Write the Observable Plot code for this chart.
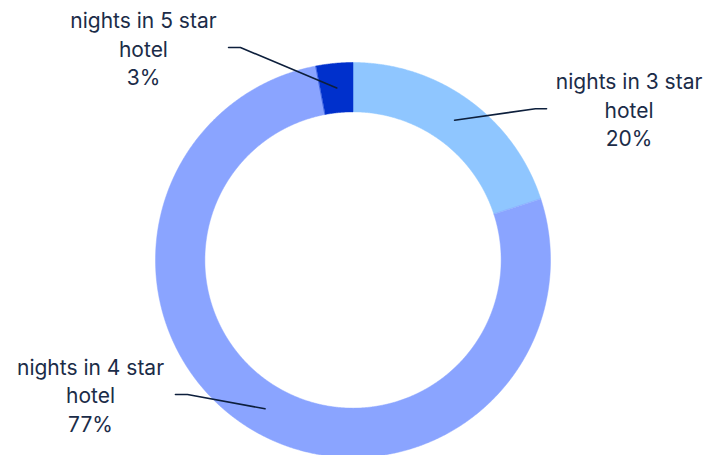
<!DOCTYPE html>
<html>
<head>
<meta charset="utf-8">
<script src="https://cdn.jsdelivr.net/npm/d3@7"></script>
<script src="https://cdn.jsdelivr.net/npm/@observablehq/plot@0.6"></script>
<style>
  html, body { margin: 0; padding: 0; background: #fff; }
  #chart { width: 709px; height: 455px; }
</style>
</head>
<body>
<div id="chart"></div>
<script>
// ---- data ----
const categories = ["nights in 3 star hotel", "nights in 4 star hotel", "nights in 5 star hotel"];
const labelLines = ["nights in 3 star\nhotel", "nights in 4 star\nhotel", "nights in 5 star\nhotel"];
const shares = [20, 77, 3];
const colors = ["#8fc6ff", "#8aa4ff", "#0030cc"];

// ---- layout (unit-circle coordinates, radius 1 = outer edge) ----
const innerRatio = 0.75;
const tipRadius = 0.875;
const labelPos = [
  {tx: 1.398, ty: 0.767, ex: 0.924, ey: 0.766, sx: 0.980},
  {tx: -1.329, ty: -0.679, ex: -0.838, ey: -0.681, sx: -0.899},
  {tx: -1.061, ty: 1.076, ex: -0.570, ey: 1.076, sx: -0.630}
];

const pie = d3.pie().sort(null).value(d => d)(shares);

const ringPts = [];
pie.forEach((p, i) => {
  const a0 = p.startAngle, a1 = p.endAngle;
  const n = Math.max(2, Math.ceil((a1 - a0) / 0.005));
  for (let k = 0; k <= n; k++) {
    const a = a0 + (a1 - a0) * k / n;
    ringPts.push({cat: categories[i], x: Math.sin(a), y: Math.cos(a)});
  }
  for (let k = n; k >= 0; k--) {
    const a = a0 + (a1 - a0) * k / n;
    ringPts.push({cat: categories[i], x: innerRatio * Math.sin(a), y: innerRatio * Math.cos(a)});
  }
});

const leaderPts = [];
pie.forEach((p, i) => {
  const m = (p.startAngle + p.endAngle) / 2;
  const L = labelPos[i];
  leaderPts.push({cat: categories[i], x: tipRadius * Math.sin(m), y: tipRadius * Math.cos(m)});
  leaderPts.push({cat: categories[i], x: L.ex, y: L.ey});
  leaderPts.push({cat: categories[i], x: L.sx, y: L.ey});
});

const labels = pie.map((p, i) => ({
  x: labelPos[i].tx,
  y: labelPos[i].ty,
  text: labelLines[i] + "\n" + shares[i] + "%"
}));

const R = 197.5, cx = 352.5, cy = 259.5, W = 709, H = 455;

const chart = Plot.plot({
  width: W,
  height: H,
  margin: 0,
  style: {background: "#fff", fontFamily: "Inter, sans-serif"},
  x: {domain: [-cx / R, (W - cx) / R], range: [0, W], axis: null},
  y: {domain: [(cy - H) / R, cy / R], range: [H, 0], axis: null},
  marks: [
    ...categories.map((c, i) => Plot.line(ringPts.filter(d => d.cat === c), {
      x: "x", y: "y", fill: colors[i], stroke: colors[i], strokeWidth: 0.5, curve: "linear-closed"
    })),
    Plot.line(leaderPts, {x: "x", y: "y", z: "cat", stroke: "#0d1f3c", strokeWidth: 1.6}),
    Plot.text(labels, {
      x: "x", y: "y", text: "text", fill: "#1b2c48", fontSize: 21, fontWeight: 400,
      lineHeight: 1.36, lineAnchor: "middle", textAnchor: "middle"
    })
  ]
});

document.getElementById("chart").appendChild(chart);
</script>
</body>
</html>
